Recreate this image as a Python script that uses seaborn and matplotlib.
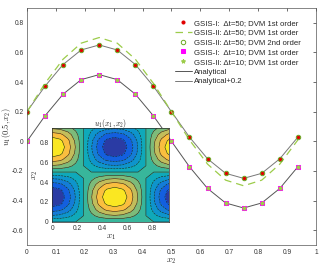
import numpy as np
import matplotlib
matplotlib.use("Agg")
import matplotlib.pyplot as plt
import seaborn as sns
from matplotlib.colors import LinearSegmentedColormap

# ============================================
# DATA
# ============================================

x2 = [0, 0.0625, 0.125, 0.1875, 0.25, 0.3125, 0.375, 0.4375,
      0.5, 0.5625, 0.625, 0.6875, 0.75, 0.8125, 0.875, 0.9375]

analytical = [0.0, 0.172, 0.318, 0.416, 0.45, 0.416, 0.318, 0.172,
              0.0, -0.172, -0.318, -0.416, -0.45, -0.416, -0.318, -0.172]

analytical_02 = [0.2, 0.372, 0.518, 0.616, 0.65, 0.616, 0.518, 0.372,
                 0.2, 0.028, -0.118, -0.216, -0.25, -0.216, -0.118, 0.028]

gsis2_dt50_1st = [0.2, 0.391, 0.554, 0.662, 0.70, 0.662, 0.554, 0.391,
                  0.2, 0.009, -0.154, -0.262, -0.30, -0.262, -0.154, 0.009]

gsis1_dt50_1st = analytical_02
gsis2_dt50_2nd = analytical_02
gsis1_dt10_1st = analytical
gsis2_dt10_1st = analytical

# inset field profiles: u1(x1, x2) = profile_x1(x1) * profile_x2(x2)
x1 = x2
profile_x1 = [-1.0, -0.924, -0.707, -0.383, 0.0, 0.383, 0.707, 0.924,
              1.0, 0.924, 0.707, 0.383, 0.0, -0.383, -0.707, -0.924]
profile_x2 = analytical

# ============================================
# STYLE
# ============================================

sns.set_style("white")
plt.rcParams["font.family"] = ["Liberation Sans", "DejaVu Sans"]
plt.rcParams["mathtext.fontset"] = "cm"

parula = LinearSegmentedColormap.from_list("parula", [
    (0.208, 0.166, 0.529),
    (0.075, 0.365, 0.876),
    (0.080, 0.526, 0.832),
    (0.024, 0.650, 0.757),
    (0.257, 0.727, 0.578),
    (0.674, 0.741, 0.400),
    (0.993, 0.745, 0.239),
    (0.976, 0.983, 0.081),
])

# ============================================
# MAIN PLOT
# ============================================

fig = plt.figure(figsize=(3.25, 2.72), dpi=100)
ax = fig.add_axes([0.083, 0.099, 0.889, 0.872])

green = "#9ccc4a"

sns.lineplot(x=x2, y=gsis1_dt50_1st, ax=ax, linestyle="none", marker="o",
             markersize=2.2, color="#e00000", markeredgecolor="#e00000",
             label="GSIS-I:  Δt=50; DVM 1st order")
sns.lineplot(x=x2, y=gsis2_dt50_1st, ax=ax, linestyle=(0, (6, 4)),
             color=green, linewidth=0.9,
             label="GSIS-II: Δt=50; DVM 1st order")
sns.lineplot(x=x2, y=gsis2_dt50_2nd, ax=ax, linestyle="none", marker="o",
             markersize=3.2, markerfacecolor="none", markeredgecolor="#6aa823",
             markeredgewidth=0.7, color="#6aa823",
             label="GSIS-II: Δt=50; DVM 2nd order")
sns.lineplot(x=x2, y=gsis1_dt10_1st, ax=ax, linestyle="none", marker="s",
             markersize=2.2, color="#ff00ff", markeredgecolor="#ff00ff",
             label="GSIS-I:  Δt=10; DVM 1st order")
sns.lineplot(x=x2, y=gsis2_dt10_1st, ax=ax, linestyle="none", marker="*",
             markersize=3.0, color=green, markeredgecolor=green,
             label="GSIS-II: Δt=10; DVM 1st order")
sns.lineplot(x=x2, y=analytical, ax=ax, color="#555555", linewidth=0.7,
             label="Analytical", zorder=1)
sns.lineplot(x=x2, y=analytical_02, ax=ax, color="#777777", linewidth=0.7,
             label="Analytical+0.2", zorder=1)

ax.set_xlim(0, 1)
ax.set_ylim(-0.7, 0.9)
ax.set_xticks(np.arange(0, 1.01, 0.1))
ax.set_xticklabels(["0", "0.1", "0.2", "0.3", "0.4", "0.5",
                    "0.6", "0.7", "0.8", "0.9", "1"])
ax.set_yticks([-0.6, -0.4, -0.2, 0, 0.2, 0.4, 0.6, 0.8])
ax.set_yticklabels(["-0.6", "-0.4", "-0.2", "0", "0.2", "0.4", "0.6", "0.8"])
ax.tick_params(labelsize=4.8, colors="#333333", direction="in", length=2.5,
               width=0.5, top=True, right=True, pad=2.5)
for s in ax.spines.values():
    s.set_linewidth(0.5)
    s.set_color("#555555")

ax.set_xlabel("$x_2$", fontsize=6.5, labelpad=1)
ax.set_ylabel("$u_1(0.5,x_2)$", fontsize=6)
ax.yaxis.set_label_coords(-0.05, 0.5)

ax.legend(loc="upper right", frameon=False, fontsize=5.6,
          handlelength=2.2, handletextpad=0.3, labelspacing=0.3,
          borderaxespad=0.0, bbox_to_anchor=(0.96, 0.965))

# ============================================
# INSET CONTOUR
# ============================================

field = np.outer(profile_x2, profile_x1)
levels = np.linspace(-0.45, 0.45, 11)

ins = fig.add_axes([0.161, 0.184, 0.360, 0.344])
ins.contourf(x1, x2, field, levels=levels, cmap=parula)
ins.contour(x1, x2, field, levels=levels[1:-1], colors="#202020",
            linewidths=0.4)
ins.set_xlim(0, 0.9375)
ins.set_ylim(0, 0.9375)
ins.set_xticks([0, 0.2, 0.4, 0.6, 0.8])
ins.set_xticklabels(["0", "0.2", "0.4", "0.6", "0.8"])
ins.set_yticks([0, 0.2, 0.4, 0.6, 0.8])
ins.set_yticklabels(["0", "0.2", "0.4", "0.6", "0.8"])
ins.tick_params(labelsize=4.8, colors="#333333", direction="in", length=2,
                width=0.5, pad=2.5)
for s in ins.spines.values():
    s.set_linewidth(0.5)
ins.set_title("$u_1(x_1,x_2)$", fontsize=5.5, pad=2)
ins.set_xlabel("$x_1$", fontsize=6.5, labelpad=0)
ins.set_ylabel("$x_2$", fontsize=6.5, labelpad=0)

fig.savefig("out.png", dpi=100)
